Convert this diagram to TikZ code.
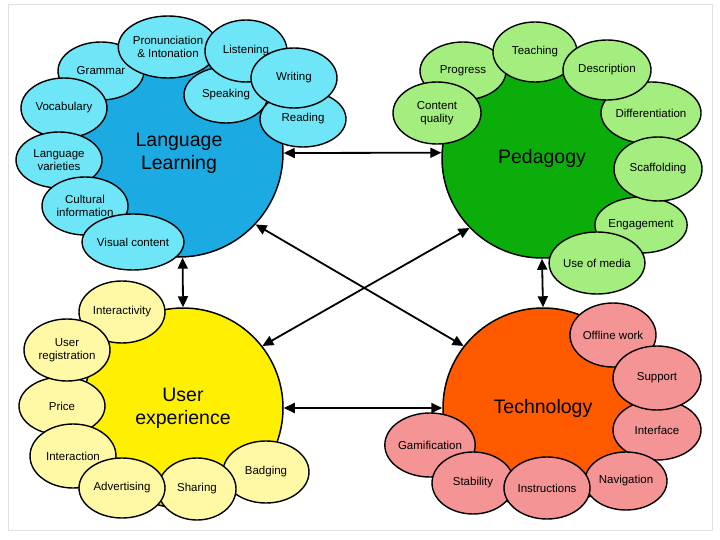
\documentclass[tikz,border=0pt]{standalone}
\usepackage{fontspec}
\setmainfont{Liberation Sans}
\usetikzlibrary{shapes.geometric,arrows.meta}
\definecolor{llbig}{HTML}{1BABE2}
\definecolor{llsat}{HTML}{6FE6F7}
\definecolor{pedbig}{HTML}{0AAD0A}
\definecolor{pedsat}{HTML}{A3EE7E}
\definecolor{uxbig}{HTML}{FFF000}
\definecolor{uxsat}{HTML}{FFF9A6}
\definecolor{techbig}{HTML}{FF5A00}
\definecolor{techsat}{HTML}{F49494}
\begin{document}
\begin{tikzpicture}[x=1pt,y=-1pt,
  bigc/.style={circle,draw=black,line width=1.5pt,inner sep=0pt,align=center,
    font=\fontsize{19.5}{23}\selectfont},
  sat/.style n args={2}{ellipse,draw=black,line width=1.4pt,inner sep=0pt,align=center,
    minimum width=#1pt,minimum height=#2pt,font=\fontsize{11.5}{13}\selectfont},
  link/.style={{Triangle[length=11pt,width=10pt]}-{Triangle[length=11pt,width=10pt]},line width=1.8pt}]
\useasboundingbox (0,0) rectangle (720,540);
\draw[black!12,line width=1pt] (8,5) rectangle (712,530);

% Language Learning
\node[bigc,fill=llbig,minimum size=208pt] (LL) at (179,153) {Language\\Learning};
\node[sat={86}{58},fill=llsat] (gram) at (101,71) {Grammar};
\node[sat={86}{60},fill=llsat] (voc) at (64,108) {Vocabulary};
\node[sat={86}{62},fill=llsat] (pron) at (168,47) {Pronunciation\\\& Intonation};
\node[sat={86}{56},fill=llsat] (lvar) at (59,160) {Language\\varieties};
\node[sat={86}{58},fill=llsat] (cult) at (85,206) {Cultural\\information};
\node[sat={86}{56},fill=llsat] (vis) at (133,242) {Visual content};
\node[sat={84}{56},fill=llsat] (speak) at (226,95) {Speaking};
\node[sat={82}{62},fill=llsat] (list) at (246,51) {Listening};
\node[sat={86}{56},fill=llsat] (read) at (303,119) {Reading};
\node[sat={86}{60},fill=llsat] (writ) at (294,78) {Writing};

% Pedagogy
\node[bigc,fill=pedbig,minimum size=200pt] (Ped) at (542,158) {Pedagogy};
\node[sat={86}{58},fill=pedsat] (prog) at (463,71) {Progress};
\node[sat={88}{62},fill=pedsat] (diff) at (651,113) {Differentiation};
\node[sat={84}{60},fill=pedsat] (teach) at (535,52) {Teaching};
\node[sat={88}{60},fill=pedsat] (desc) at (607,70) {Description};
\node[sat={88}{62},fill=pedsat] (cq) at (437,113) {Content\\quality};
\node[sat={88}{56},fill=pedsat] (eng) at (641,225) {Engagement};
\node[sat={88}{64},fill=pedsat] (scaf) at (658,169) {Scaffolding};
\node[sat={88}{62},fill=pedsat] (media) at (597,263) {Use of media};

% User experience
\node[bigc,fill=uxbig,minimum size=200pt] (UX) at (183,408) {User\\experience};
\node[sat={86}{62},fill=uxsat] (intv) at (122,312) {Interactivity};
\node[sat={86}{58},fill=uxsat] (price) at (62,406) {Price};
\node[sat={86}{62},fill=uxsat] (ureg) at (67,350) {User\\registration};
\node[sat={86}{64},fill=uxsat] (inter) at (73,456) {Interaction};
\node[sat={86}{62},fill=uxsat] (badg) at (266,472) {Badging};
\node[sat={78}{62},fill=uxsat] (share) at (197,489) {Sharing};
\node[sat={86}{60},fill=uxsat] (adv) at (122,488) {Advertising};

% Technology
\node[bigc,fill=techbig,minimum size=200pt] (Tech) at (543,408) {Technology};
\node[sat={86}{64},fill=techsat] (off) at (613,335) {Offline work};
\node[sat={88}{60},fill=techsat] (intf) at (657,430) {Interface};
\node[sat={88}{64},fill=techsat] (supp) at (657,378) {Support};
\node[sat={86}{64},fill=techsat] (gam) at (430,445) {Gamification};
\node[sat={82}{62},fill=techsat] (stab) at (473,483) {Stability};
\node[sat={82}{58},fill=techsat] (nav) at (626,481) {Navigation};
\node[sat={86}{62},fill=techsat] (instr) at (547,488) {Instructions};

% connectors
\draw[link] (LL.0) -- (Ped.177);
\draw[link] (LL.-88) -- (UX.90);
\draw[link] (UX.0) -- (Tech.180);
\draw[link] (Ped.-90) -- (Tech.90);
\draw[link] (LL.-43) -- (Tech.142);
\draw[link] (Ped.224) -- (UX.38);
\end{tikzpicture}
\end{document}
